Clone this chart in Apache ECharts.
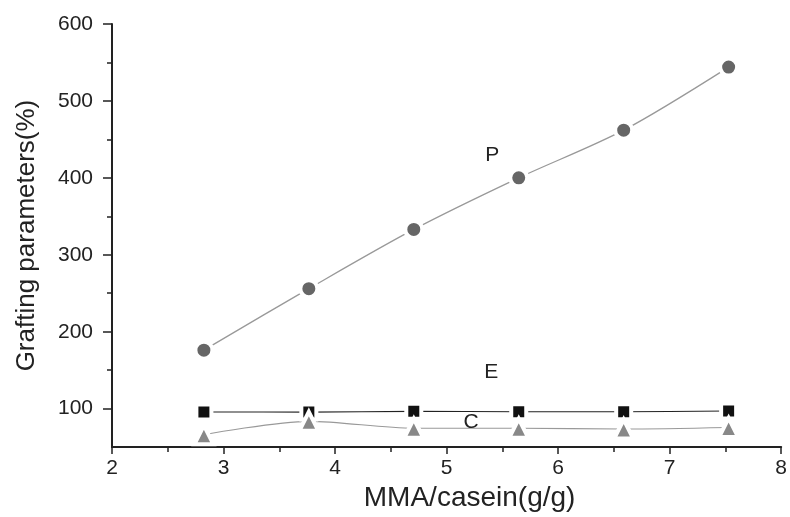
<!DOCTYPE html>
<html>
<head>
<meta charset="utf-8">
<script src="https://cdn.jsdelivr.net/npm/echarts@6/dist/echarts.min.js"></script>
<style>html,body{margin:0;padding:0;background:#fff}#c{width:790px;height:517px}</style>
</head>
<body>
<div id="c"></div>
<script>
// MMA/casein ratio (g/g)
const xValues = [2.824, 3.765, 4.706, 5.647, 6.588, 7.529];
// Grafting parameters (%)
const pValues = [176, 256, 333, 400, 462, 544];
const eValues = [95.7, 95.5, 96.5, 96, 96, 97];
const cValues = [66, 83.5, 74.5, 74.5, 73.5, 75.5];
// series annotation labels [name, x, y] in data units
const seriesLabels = [["P", 5.41, 430], ["E", 5.40, 148], ["C", 5.22, 83]];
const yMajorTicks = [100, 200, 300, 400, 500, 600];
const yMinorTicks = [150, 250, 350, 450, 550];
const xTitle = "MMA/casein(g/g)";
const yTitle = "Grafting parameters(%)";

const FONT = "Liberation Sans, Arial, sans-serif";
const pair = (xs, ys) => xs.map((x, i) => [x, ys[i]]);
const lbl = (name) => {
  const l = seriesLabels.find(s => s[0] === name);
  return {
    symbol: 'circle', symbolSize: 0, silent: true,
    label: {show: true, position: 'inside', formatter: l[0], color: '#222', fontSize: 21, fontFamily: FONT},
    data: [{coord: [l[1], l[2]]}]
  };
};

const chart = echarts.init(document.getElementById('c'), null, {renderer: 'canvas'});
chart.setOption({
  animation: false,
  backgroundColor: '#fff',
  grid: {left: 112, right: 8, top: 24, bottom: 68},
  xAxis: {
    type: 'value', min: 2, max: 8, interval: 1,
    name: xTitle, nameLocation: 'middle', nameGap: 36,
    nameTextStyle: {fontSize: 28, color: '#222', fontFamily: FONT, padding: [0, 0, 0, 46]},
    axisLine: {show: true, lineStyle: {color: '#222', width: 2}},
    axisTick: {show: true, length: 7, lineStyle: {color: '#222', width: 1.5}},
    minorTick: {show: true, splitNumber: 2, length: 5, lineStyle: {color: '#222', width: 1.5}},
    axisLabel: {fontSize: 21, color: '#222', margin: 11, fontFamily: FONT},
    splitLine: {show: false}
  },
  yAxis: [{
    type: 'value', min: 50, max: 600,
    name: yTitle, nameLocation: 'middle', nameGap: 72,
    nameTextStyle: {fontSize: 26, color: '#222', fontFamily: FONT},
    axisLine: {show: true, lineStyle: {color: '#222', width: 2}},
    axisTick: {show: true, length: 9, customValues: yMajorTicks, lineStyle: {color: '#222', width: 1.5}},
    axisLabel: {fontSize: 21, color: '#222', margin: 19, fontFamily: FONT, customValues: yMajorTicks},
    splitLine: {show: false}
  }, {
    type: 'value', min: 50, max: 600, position: 'left', offset: 0,
    axisLine: {show: false},
    axisTick: {show: true, length: 5, customValues: yMinorTicks, lineStyle: {color: '#222', width: 1.5}},
    axisLabel: {show: false, customValues: yMinorTicks},
    splitLine: {show: false}
  }],
  series: [{
    name: 'P', type: 'line', smooth: 0.3, data: pair(xValues, pValues),
    symbol: 'circle', symbolSize: 17,
    itemStyle: {color: '#666', borderColor: '#fff', borderWidth: 4},
    lineStyle: {color: '#999', width: 1.3},
    markPoint: lbl('P')
  }, {
    name: 'E', type: 'line', smooth: 0.3, data: pair(xValues, eValues),
    symbol: 'rect', symbolSize: 15,
    itemStyle: {color: '#111', borderColor: '#fff', borderWidth: 4},
    lineStyle: {color: '#222', width: 1.1},
    markPoint: lbl('E')
  }, {
    name: 'C', type: 'line', smooth: 0.3, data: pair(xValues, cValues),
    symbol: 'triangle', symbolSize: 19,
    itemStyle: {color: '#888', borderColor: '#fff', borderWidth: 4},
    lineStyle: {color: '#999', width: 1.1},
    markPoint: lbl('C')
  }]
});
</script>
</body>
</html>
